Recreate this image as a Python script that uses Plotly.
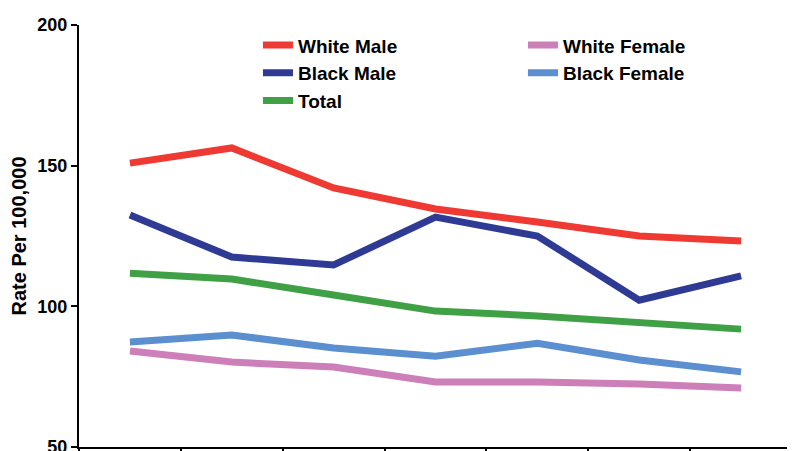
import plotly.graph_objects as go

categories = ["1999", "2000", "2001", "2002", "2003", "2004", "2005"]
white_male = [150.9, 156.3, 142.1, 134.6, 130.0, 125.0, 123.2]
white_female = [84.1, 80.2, 78.4, 73.1, 73.1, 72.4, 71.0]
black_male = [132.5, 117.5, 114.7, 131.7, 125.0, 102.2, 110.8]
black_female = [87.3, 89.8, 85.2, 82.3, 86.9, 80.9, 76.7]
total = [111.8, 109.7, 104.0, 98.3, 96.6, 94.0, 91.9]

series = [
    ("White Male", white_male, "#EE3A33"),
    ("White Female", white_female, "#CC7FB8"),
    ("Black Male", black_male, "#2E3A94"),
    ("Black Female", black_female, "#5B8FD0"),
    ("Total", total, "#3FA046"),
]

fig = go.Figure()
for name, vals, color in series:
    fig.add_trace(go.Scatter(
        x=categories, y=vals, name=name, mode="lines",
        line=dict(color=color, width=7),
    ))

font_family = "Liberation Sans, Arial, sans-serif"
# The page body adds an 8px offset, so the figure is 8px smaller and margins shifted.
fig.update_layout(
    width=787, height=443,
    margin=dict(l=71, r=3, t=17, b=4, autoexpand=False),
    paper_bgcolor="white", plot_bgcolor="white",
    font=dict(family=font_family, size=18, color="black", weight="bold"),
    showlegend=True,
    legend=dict(
        orientation="h", x=0.251, y=0.997, xanchor="left", yanchor="top",
        entrywidth=220, entrywidthmode="pixels",
        font=dict(size=19, family=font_family, color="black", weight="bold"),
        bgcolor="rgba(0,0,0,0)", tracegroupgap=0,
    ),
    xaxis=dict(
        type="category", showticklabels=False, showgrid=False, automargin=False,
        showline=True, linecolor="black", linewidth=2,
        ticks="outside", tickson="boundaries", ticklen=6, tickcolor="black", tickwidth=2,
        range=[-0.5, 6.5],
    ),
    yaxis=dict(
        range=[50, 200], tickvals=[50, 100, 150, 200], showgrid=False, zeroline=False,
        automargin=False, ticklabeloverflow="allow",
        showline=True, linecolor="black", linewidth=2,
        ticks="outside", ticklen=6, tickcolor="black", tickwidth=2,
        tickfont=dict(size=18, family=font_family, weight="bold"),
        title=dict(text="Rate Per 100,000", font=dict(size=20, family=font_family, weight="bold"), standoff=6),
    ),
)

fig.write_html("out.html")
